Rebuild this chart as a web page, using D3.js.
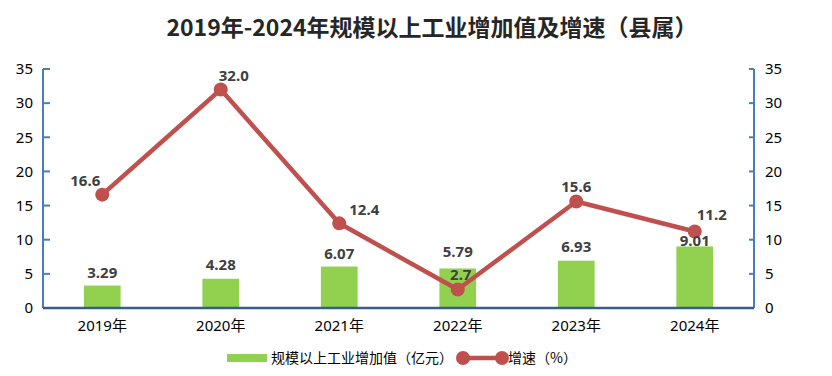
<!DOCTYPE html>
<html>
<head>
<meta charset="utf-8">
<script src="https://cdn.jsdelivr.net/npm/d3@7"></script>
<style>
  body { margin: 0; background: #fff; }
  svg text { font-family: "Noto Sans", "Noto Sans CJK SC", sans-serif; }
</style>
</head>
<body>
<div id="chart"></div>
<script>
const years = ["2019年", "2020年", "2021年", "2022年", "2023年", "2024年"];
const addedValue = [3.29, 4.28, 6.07, 5.79, 6.93, 9.01];
const growthRate = [16.6, 32.0, 12.4, 2.7, 15.6, 11.2];
const growthLabels = ["16.6", "32.0", "12.4", "2.7", "15.6", "11.2"];
const yTicks = [0, 5, 10, 15, 20, 25, 30, 35];
const seriesNames = ["规模以上工业增加值（亿元）", "增速（%）"];
const title = "2019年-2024年规模以上工业增加值及增速（县属）";

function drawChart() {
    const W = 832, H = 376;
    const margin = { top: 69, right: 78, bottom: 68, left: 43 };
    const width = W - margin.left - margin.right;
    const height = H - margin.top - margin.bottom;

    const BAR_COLOR = "#92D050";
    const LINE_COLOR = "#C0504D";
    const LABEL_COLOR = "#404040";

    // nudges for the line labels, [dx, dy] from the point
    const lineNudge = [[-17, -14], [13, -14], [25, -13], [3, -15], [0, -14], [17, -17]];
    // nudges for the bar labels, dy from the bar top
    const barNudge = [-13, -14, -13, -16, -14, -5];

    const svg = d3.select("#chart")
        .append("svg")
        .attr("width", W)
        .attr("height", H);

    svg.append("text")
        .attr("x", 432)
        .attr("y", 36)
        .attr("text-anchor", "middle")
        .style("font-family", "'Noto Sans CJK SC', sans-serif")
        .style("font-weight", "bold")
        .style("font-size", "23px")
        .attr("fill", "#262626")
        .text(title);

    const g = svg.append("g")
        .attr("transform", `translate(${margin.left},${margin.top})`);

    const x = d3.scaleBand()
        .domain(years)
        .range([0, width])
        .paddingInner(0)
        .paddingOuter(0);

    const y = d3.scaleLinear()
        .domain([0, 35])
        .range([height, 0]);

    const yLeft = d3.axisLeft(y).tickValues(yTicks).tickSize(0).tickPadding(10);
    const yRight = d3.axisRight(y).tickValues(yTicks).tickSize(0).tickPadding(11);

    const gl = g.append("g").call(yLeft);
    gl.select(".domain").remove();
    gl.selectAll("text").style("font-size", "15px").attr("fill", "#000");

    const gr = g.append("g").attr("transform", `translate(${width},0)`).call(yRight);
    gr.select(".domain").remove();
    gr.selectAll("text").style("font-size", "15px").attr("fill", "#000");

    // vertical axis lines with inner ticks
    g.append("line")
        .attr("x1", 0).attr("x2", 0)
        .attr("y1", y(35)).attr("y2", y(0))
        .attr("stroke", "#4A7EBB").attr("stroke-width", 2);
    g.selectAll(".ltick").data(yTicks).enter().append("line")
        .attr("x1", 0).attr("x2", 7)
        .attr("y1", d => y(d)).attr("y2", d => y(d))
        .attr("stroke", "#4A7EBB").attr("stroke-width", 2);

    g.append("line")
        .attr("x1", width).attr("x2", width)
        .attr("y1", y(35)).attr("y2", y(0))
        .attr("stroke", "#4A7EBB").attr("stroke-width", 2);
    g.selectAll(".rtick").data(yTicks).enter().append("line")
        .attr("x1", width - 5).attr("x2", width)
        .attr("y1", d => y(d)).attr("y2", d => y(d))
        .attr("stroke", "#4A7EBB").attr("stroke-width", 2);

    const xAxis = d3.axisBottom(x).tickSize(0).tickPadding(12);
    const gx = g.append("g").attr("transform", `translate(0,${height})`).call(xAxis);
    gx.select(".domain").remove();
    gx.selectAll("text")
        .style("font-size", "15px")
        .style("font-family", "'Noto Sans', 'Noto Sans CJK SC', sans-serif")
        .attr("fill", "#000");

    const barW = x.bandwidth() * 0.31;

    g.selectAll(".bar")
        .data(addedValue)
        .enter()
        .append("rect")
        .attr("class", "bar")
        .attr("fill", BAR_COLOR)
        .attr("x", (_, i) => x(years[i]) + (x.bandwidth() - barW) / 2)
        .attr("y", d => y(d))
        .attr("width", barW)
        .attr("height", d => height - y(d));

    g.append("line")
        .attr("x1", 0).attr("x2", width)
        .attr("y1", height).attr("y2", height)
        .attr("stroke", "#385D8A").attr("stroke-width", 2.5);

    const cx = i => x(years[i]) + x.bandwidth() / 2;

    const line = d3.line()
        .x((_, i) => cx(i))
        .y(d => y(d));

    g.append("path")
        .datum(growthRate)
        .attr("fill", "none")
        .attr("stroke", LINE_COLOR)
        .attr("stroke-width", 4.5)
        .attr("stroke-linejoin", "round")
        .attr("d", line);

    g.selectAll(".dot")
        .data(growthRate)
        .enter()
        .append("circle")
        .attr("cx", (_, i) => cx(i))
        .attr("cy", d => y(d))
        .attr("r", 7)
        .attr("fill", LINE_COLOR);

    g.selectAll(".bar-label")
        .data(addedValue)
        .enter()
        .append("text")
        .attr("x", (_, i) => cx(i))
        .attr("y", (d, i) => y(d) + barNudge[i] + 5)
        .attr("text-anchor", "middle")
        .style("font-size", "15px")
        .style("font-weight", "bold")
        .attr("fill", LABEL_COLOR)
        .text(d => d.toFixed(2));

    g.selectAll(".line-label")
        .data(growthRate)
        .enter()
        .append("text")
        .attr("x", (_, i) => cx(i) + lineNudge[i][0])
        .attr("y", (d, i) => y(d) + lineNudge[i][1] + 5)
        .attr("text-anchor", "middle")
        .style("font-size", "15px")
        .style("font-weight", "bold")
        .attr("fill", LABEL_COLOR)
        .text((_, i) => growthLabels[i]);

    // legend
    const lg = svg.append("g").attr("transform", "translate(0,358)");
    lg.append("rect")
        .attr("x", 227).attr("y", -4)
        .attr("width", 40).attr("height", 8)
        .attr("fill", BAR_COLOR);
    lg.append("text")
        .attr("x", 271).attr("y", 5)
        .style("font-size", "14px")
        .style("font-family", "'Noto Sans CJK SC', sans-serif")
        .attr("fill", "#000")
        .text(seriesNames[0]);
    lg.append("line")
        .attr("x1", 463).attr("x2", 502)
        .attr("y1", 0).attr("y2", 0)
        .attr("stroke", LINE_COLOR).attr("stroke-width", 4.5);
    lg.selectAll(".lm").data([463, 502]).enter().append("circle")
        .attr("cx", d => d).attr("cy", 0).attr("r", 7)
        .attr("fill", LINE_COLOR);
    lg.append("text")
        .attr("x", 508).attr("y", 5)
        .style("font-size", "14px")
        .style("font-family", "'Noto Sans CJK SC', sans-serif")
        .attr("fill", "#000")
        .text(seriesNames[1]);
}

drawChart();
</script>
</body>
</html>
